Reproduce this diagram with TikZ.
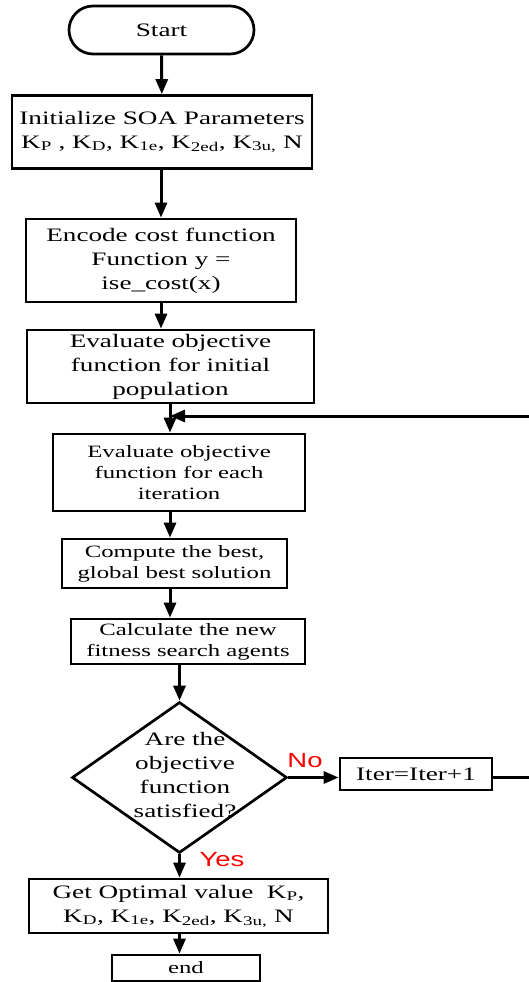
\documentclass[tikz,border=0pt]{standalone}
\usepackage{fontspec}
\setmainfont{Liberation Serif}[FakeStretch=1.43]
\newfontfamily\yesnofont{Liberation Sans}[FakeStretch=1.34]
\usetikzlibrary{arrows.meta,positioning,calc,shapes.misc,shapes.geometric}
\definecolor{flowred}{HTML}{FF0000}
\tikzset{
  procbox/.style={draw=black, line width=2.7pt, fill=white, inner sep=0pt,
                  align=center, font=\fontsize{19}{24}\selectfont},
  smallbox/.style={procbox, font=\fontsize{17.3}{21}\selectfont},
  termbox/.style={procbox, rounded rectangle},
  decbox/.style={draw=black, line width=2.7pt, diamond, inner sep=0pt},
  dectext/.style={align=center, font=\fontsize{19}{23.7}\selectfont},
  yesno/.style={text=flowred, inner sep=0pt, font=\yesnofont\fontsize{20.5}{24}\selectfont},
  arr/.style={-{Triangle[length=15pt, width=12pt]}, line width=3pt}}

\begin{document}
\begin{tikzpicture}[x=1pt, y=-1pt]
  \useasboundingbox (0,0) rectangle (529,982);
  % main column
  \node[termbox, minimum width=185pt, minimum height=48pt] (start) at (161.5,30) {Start};
  \node[procbox, minimum width=300pt, minimum height=73pt] (init) at (162,132)
    {Initialize SOA Parameters\\
     K\textsubscript{P} , K\textsubscript{D}, K\textsubscript{1e}, K\textsubscript{2ed}, K\textsubscript{3u,} N};
  \node[procbox, minimum width=270pt, minimum height=83pt] (enc) at (161,260.5)
    {Encode cost function\\ Function y =\\ ise\_cost(x)};
  \node[procbox, minimum width=287pt, minimum height=73pt] (evinit) at (170.5,366.5)
    {Evaluate objective\\ function for initial\\ population};
  \node[smallbox, minimum width=252pt, minimum height=77pt] (eviter) at (179,472.5)
    {\raisebox{-3pt}{\parbox{240pt}{\centering Evaluate objective\\ function for each\\ iteration}}};
  \node[smallbox, minimum width=225pt, minimum height=49pt] (best) at (174.5,563.5)
    {Compute the best,\\ global best solution};
  \node[smallbox, minimum width=234pt, minimum height=45pt] (calc) at (188,641.5)
    {Calculate the new\\ fitness search agents};
  \node[decbox, minimum width=215pt, minimum height=151pt] (dec) at (179.5,777.5) {};
  \node[dectext] (dectxt) at (185,775)
    {Are the\\ objective\\ function\\ satisfied?};
  \node[procbox, minimum width=152pt, minimum height=32pt] (iter) at (416,774) {Iter=Iter+1};
  \node[procbox, minimum width=299pt, minimum height=54pt] (opt) at (178.5,906)
    {Get Optimal value\ \ K\textsubscript{P},\\
     K\textsubscript{D}, K\textsubscript{1e}, K\textsubscript{2ed}, K\textsubscript{3u,} N};
  \node[smallbox, minimum width=148pt, minimum height=26pt] (endb) at (186,968) {end};
  \node[yesno] (no) at (305,761) {No};
  \node[yesno] (yes) at (222,860) {Yes};
  \coordinate (mid) at (170,416);
  \coordinate (back) at (560,777.7);
  % connectors
  \draw[arr] (start) -- (init);
  \draw[arr] (init.south -| enc.north) -- (enc.north);
  \draw[arr] (enc.south) -- (enc.south |- evinit.north);
  \draw[arr] (evinit.south -| mid) -- (eviter.north -| mid);
  \draw[arr] (eviter.south -| mid) -- (best.north -| mid);
  \draw[arr] (best.south -| mid) -- (calc.north -| mid);
  \draw[arr] (calc.south -| dec.north) -- (dec.north);
  \draw[arr] (dec.east) -- (dec.east -| iter.west);
  \draw[arr] (dec.south) -- (dec.south |- opt.north);
  \draw[arr] (opt.south -| dec.south) -- (endb.north -| dec.south);
  \draw[arr] (iter.east |- back) -- (back) |- (mid);
\end{tikzpicture}
\end{document}
